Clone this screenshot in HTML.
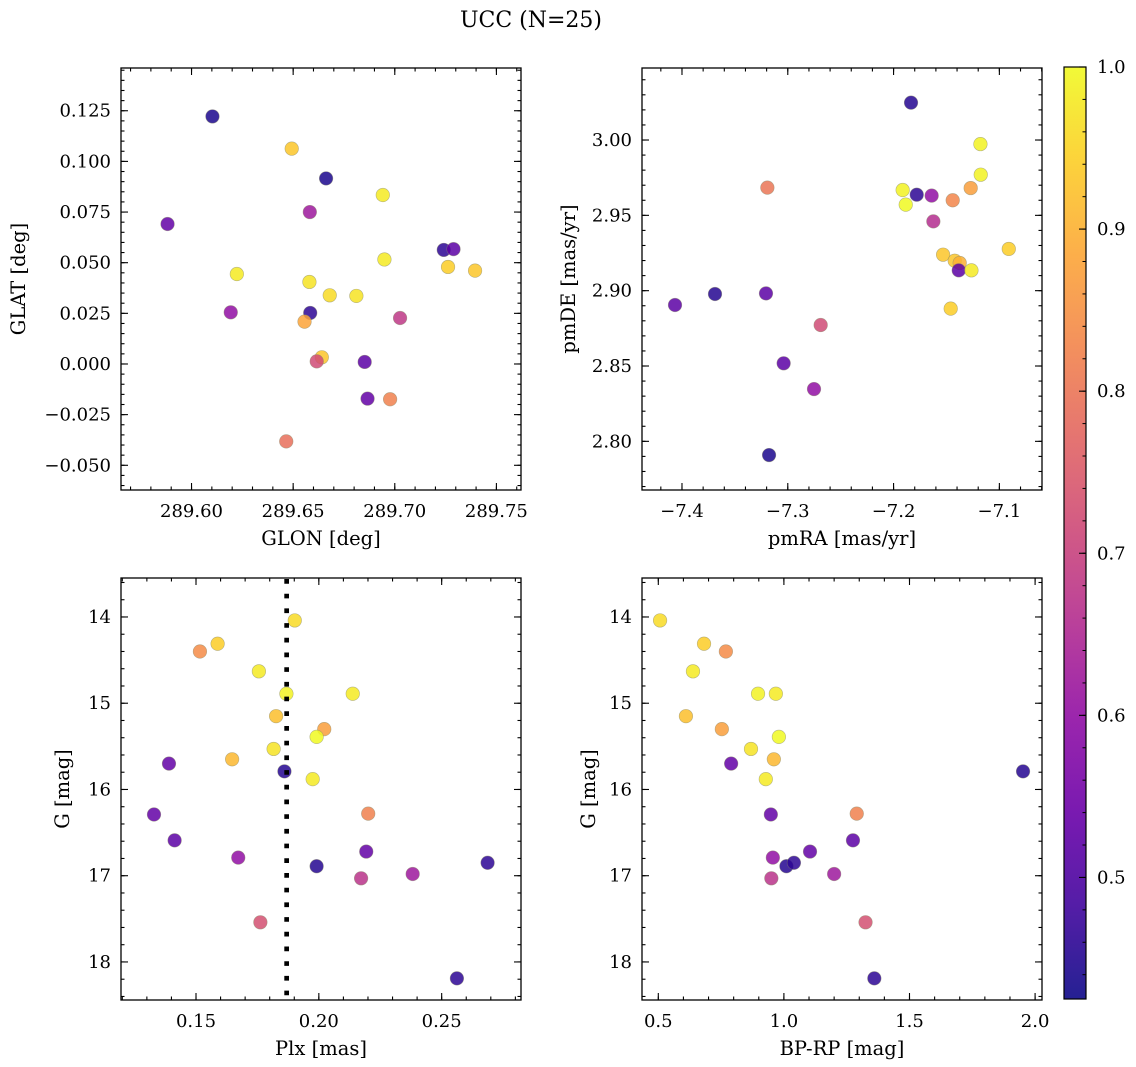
<!DOCTYPE html>
<html><head><meta charset="utf-8">
<style>
html,body{margin:0;padding:0;background:#fff;}
svg{display:block;}
text{font-family:"DejaVu Serif","Liberation Serif",serif;fill:#000;}
</style></head>
<body>
<svg id="fig" width="1136" height="1067" viewBox="0 0 1136 1067" xmlns="http://www.w3.org/2000/svg">
<defs>
<linearGradient id="plasmaGrad" x1="0" y1="1" x2="0" y2="0"></linearGradient>
</defs>
<text x="531" y="27" font-size="22" text-anchor="middle">UCC (N=25)</text>
</svg>
<script>
// ---- Panel 1: GLON / GLAT ----
const p1Glon=[289.6103,289.6493,289.6662,289.6941,289.6582,289.5882,289.7241,289.7289,289.6949,289.7262,289.7395,289.6223,289.6580,289.6680,289.6811,289.6193,289.6584,289.7026,289.6556,289.6641,289.6616,289.6852,289.6866,289.6977,289.6466];
const p1Glat=[0.1222,0.1063,0.0916,0.0834,0.0750,0.0691,0.0563,0.0567,0.0516,0.0479,0.0461,0.0444,0.0405,0.0339,0.0336,0.0255,0.0252,0.0227,0.0209,0.0033,0.0013,0.0010,-0.0171,-0.0174,-0.0382];
const p1Prob=[0.44,0.93,0.44,0.98,0.62,0.53,0.46,0.52,0.98,0.94,0.93,0.98,0.97,0.96,0.97,0.60,0.46,0.68,0.88,0.93,0.72,0.52,0.53,0.82,0.79];
const p1XTicks=[289.60,289.65,289.70,289.75];
const p1XTickLabels=["289.60","289.65","289.70","289.75"];
const p1YTicks=[-0.05,-0.025,0,0.025,0.05,0.075,0.1,0.125];
const p1YTickLabels=["\u22120.050","\u22120.025","0.000","0.025","0.050","0.075","0.100","0.125"];
// ---- Panel 2: pmRA / pmDE ----
const p2Pmra=[-7.1835,-7.1179,-7.1176,-7.1914,-7.1781,-7.1640,-7.1271,-7.3193,-7.1441,-7.1885,-7.1624,-7.0911,-7.1532,-7.1422,-7.1375,-7.1384,-7.1264,-7.4066,-7.3688,-7.3206,-7.2689,-7.1460,-7.3039,-7.2752,-7.3177];
const p2Pmde=[3.0248,2.9973,2.9770,2.9668,2.9637,2.9631,2.9681,2.9684,2.9600,2.9571,2.9460,2.9277,2.9239,2.9199,2.9184,2.9135,2.9135,2.8905,2.8978,2.8982,2.8772,2.8881,2.8518,2.8347,2.7909];
const p2Prob=[0.45,0.99,0.99,0.99,0.46,0.60,0.87,0.80,0.83,1.0,0.66,0.94,0.93,0.93,0.90,0.52,0.98,0.52,0.45,0.52,0.72,0.94,0.52,0.60,0.44];
const p2XTicks=[-7.4,-7.3,-7.2,-7.1];
const p2XTickLabels=["\u22127.4","\u22127.3","\u22127.2","\u22127.1"];
const p2YTicks=[2.80,2.85,2.90,2.95,3.00];
const p2YTickLabels=["2.80","2.85","2.90","2.95","3.00"];
// ---- Panel 3: Plx / G ----
const p3Plx=[0.1902,0.1588,0.1516,0.1756,0.1868,0.2138,0.1826,0.2022,0.1991,0.1816,0.1647,0.1390,0.1860,0.1975,0.1329,0.2201,0.1413,0.2193,0.1672,0.1991,0.2687,0.2172,0.2382,0.1762,0.2562];
const p3G=[14.04,14.31,14.40,14.63,14.89,14.89,15.15,15.30,15.39,15.53,15.65,15.70,15.79,15.88,16.29,16.28,16.59,16.72,16.79,16.89,16.85,17.03,16.98,17.54,18.19];
const p3Prob=[0.96,0.94,0.84,0.98,0.99,0.98,0.92,0.87,1.0,0.97,0.91,0.53,0.45,0.98,0.53,0.82,0.52,0.53,0.60,0.45,0.46,0.67,0.62,0.73,0.46];
const plxLine=[0.1869];
const p3XTicks=[0.15,0.20,0.25];
const p3XTickLabels=["0.15","0.20","0.25"];
const gTicks=[14,15,16,17,18];
const gTickLabels=["14","15","16","17","18"];
// ---- Panel 4: BP-RP / G ----
const p4Bprp=[0.507,0.682,0.769,0.638,0.897,0.968,0.610,0.753,0.980,0.869,0.960,0.790,1.952,0.928,0.948,1.290,1.275,1.104,0.956,1.010,1.040,0.950,1.200,1.325,1.360];
const p4G=[14.04,14.31,14.40,14.63,14.89,14.89,15.15,15.30,15.39,15.53,15.65,15.70,15.79,15.88,16.29,16.28,16.59,16.72,16.79,16.89,16.85,17.03,16.98,17.54,18.19];
const p4Prob=[0.96,0.94,0.84,0.98,0.99,0.98,0.92,0.87,1.0,0.97,0.91,0.53,0.45,0.98,0.53,0.82,0.52,0.53,0.60,0.45,0.46,0.67,0.62,0.73,0.46];
const p4XTicks=[0.5,1.0,1.5,2.0];
const p4XTickLabels=["0.5","1.0","1.5","2.0"];
// ---- Colorbar ----
const cbTicks=[0.5,0.6,0.7,0.8,0.9,1.0];
const cbTickLabels=["0.5","0.6","0.7","0.8","0.9","1.0"];
const cbMin=0.425, cbMax=1.0;

const NS="http://www.w3.org/2000/svg";
const svg=document.getElementById('fig');
function mk(tag,attrs,parent){const e=document.createElementNS(NS,tag);for(const k in attrs)e.setAttribute(k,attrs[k]);(parent||svg).appendChild(e);return e;}

const plasmaStops=[[0,13,8,135],[0.1,65,4,157],[0.2,106,0,168],[0.3,143,13,164],[0.4,177,42,144],[0.5,204,71,120],[0.6,225,100,98],[0.7,242,132,75],[0.8,252,166,54],[0.9,252,206,37],[1.0,240,249,33]];
function plasma(t){t=Math.max(0,Math.min(1,t));for(let i=1;i<plasmaStops.length;i++){const a=plasmaStops[i-1],b=plasmaStops[i];if(t<=b[0]){const f=(t-a[0])/(b[0]-a[0]);return 'rgb('+Math.round(a[1]+f*(b[1]-a[1]))+','+Math.round(a[2]+f*(b[2]-a[2]))+','+Math.round(a[3]+f*(b[3]-a[3]))+')';}}return 'rgb(240,249,33)';}
function probColor(p){return plasma((p-cbMin)/(cbMax-cbMin));}

function panel(o){
  const g=mk('g',{});
  
  
  const sx=v=>o.x0+(v-o.xmin)/(o.xmax-o.xmin)*(o.x1-o.x0);
  const sy=o.invert? (v=>o.y0+(v-o.ymin)/(o.ymax-o.ymin)*(o.y1-o.y0)) : (v=>o.y1-(v-o.ymin)/(o.ymax-o.ymin)*(o.y1-o.y0));
  const pts=mk('g',{},g);
  
  
  for(let i=0;i<o.xs.length;i++){
    const c=mk('circle',{cx:sx(o.xs[i]),cy:sy(o.ys[i]),r:6.8,fill:probColor(o.ps[i]),'fill-opacity':0.85,stroke:'#8a8a6a','stroke-opacity':0.6,'stroke-width':0.6},pts);
    
    
  }
  if(o.vline){for(const v of o.vline){const l=mk('line',{x1:sx(v),x2:sx(v),y1:o.y0+1,y2:o.y1,stroke:'#000','stroke-width':4.7,'stroke-dasharray':'4.7 10'},g);
    
    }}
  const tg=mk('g',{stroke:'#000','stroke-width':1.1},g);
  const addX=(v,len)=>{const x=sx(v);if(x<o.x0-0.5||x>o.x1+0.5)return;mk('line',{x1:x,x2:x,y1:o.y1,y2:o.y1-len},tg);mk('line',{x1:x,x2:x,y1:o.y0,y2:o.y0+len},tg);};
  const addY=(v,len)=>{const y=sy(v);if(y<o.y0-0.5||y>o.y1+0.5)return;mk('line',{x1:o.x0,x2:o.x0+len,y1:y,y2:y},tg);mk('line',{x1:o.x1,x2:o.x1-len,y1:y,y2:y},tg);};
  const lo=Math.min(o.xmin,o.xmax),hi=Math.max(o.xmin,o.xmax);
  for(let k=Math.ceil(lo/o.xminor);k*o.xminor<=hi;k++)addX(k*o.xminor,3.5);
  const ylo=Math.min(o.ymin,o.ymax),yhi=Math.max(o.ymin,o.ymax);
  for(let k=Math.ceil(ylo/o.yminor);k*o.yminor<=yhi;k++)addY(k*o.yminor,3.5);
  o.xticks.forEach((v,i)=>{addX(v,7);const t=mk('text',{x:sx(v),y:o.y1+27,'font-size':18,'text-anchor':'middle'},g);t.textContent=o.xlabels[i];
    
    });
  o.yticks.forEach((v,i)=>{addY(v,7);const t=mk('text',{x:o.x0-10,y:sy(v)+6,'font-size':18,'text-anchor':'end'},g);t.textContent=o.ylabels[i];
    
    });
  const fr=mk('rect',{x:o.x0,y:o.y0,width:o.x1-o.x0,height:o.y1-o.y0,fill:'none',stroke:'#000','stroke-width':1.3},g);
  
  
  const xt=mk('text',{x:(o.x0+o.x1)/2,y:o.y1+55,'font-size':19.5,'text-anchor':'middle'},g);xt.textContent=o.xtitle;
  
  
  const yc=(o.y0+o.y1)/2;
  const yt=mk('text',{x:o.ytx,y:yc,'font-size':19.5,'text-anchor':'middle',transform:'rotate(-90 '+o.ytx+' '+yc+')'},g);yt.textContent=o.ytitle;
  
  
}

panel({name:'glon-glat-panel',x0:121,x1:521,y0:68,y1:490,xmin:289.5653,xmax:289.7621,ymin:-0.0622,ymax:0.1461,xs:p1Glon,ys:p1Glat,ps:p1Prob,xticks:p1XTicks,xlabels:p1XTickLabels,yticks:p1YTicks,ylabels:p1YTickLabels,xminor:0.01,yminor:0.005,xtitle:'GLON [deg]',ytitle:'GLAT [deg]',ytx:25});
panel({name:'pm-panel',x0:642,x1:1042,y0:68,y1:490,xmin:-7.4378,xmax:-7.0597,ymin:2.7677,ymax:3.0478,xs:p2Pmra,ys:p2Pmde,ps:p2Prob,xticks:p2XTicks,xlabels:p2XTickLabels,yticks:p2YTicks,ylabels:p2YTickLabels,xminor:0.02,yminor:0.01,xtitle:'pmRA [mas/yr]',ytitle:'pmDE [mas/yr]',ytx:575});
panel({name:'plx-g-panel',x0:121,x1:521,y0:578,y1:1000,xmin:0.11947,xmax:0.28229,ymin:13.548,ymax:18.441,invert:true,xs:p3Plx,ys:p3G,ps:p3Prob,xticks:p3XTicks,xlabels:p3XTickLabels,yticks:gTicks,ylabels:gTickLabels,xminor:0.01,yminor:0.2,xtitle:'Plx [mas]',ytitle:'G [mag]',ytx:69,vline:plxLine});
panel({name:'cmd-panel',x0:642,x1:1042,y0:578,y1:1000,xmin:0.4351,xmax:2.0275,ymin:13.548,ymax:18.441,invert:true,xs:p4Bprp,ys:p4G,ps:p4Prob,xticks:p4XTicks,xlabels:p4XTickLabels,yticks:gTicks,ylabels:gTickLabels,xminor:0.1,yminor:0.2,xtitle:'BP-RP [mag]',ytitle:'G [mag]',ytx:595});

const grad=document.getElementById('plasmaGrad');
for(let i=0;i<=20;i++){const t=i/20;mk('stop',{offset:t,'stop-color':probColor(cbMin+t*(cbMax-cbMin)),'stop-opacity':0.9},grad);}
const cbx0=1064,cbx1=1086,cby0=67,cby1=999;
const cb=mk('g',{});


const cbr=mk('rect',{x:cbx0,y:cby0,width:cbx1-cbx0,height:cby1-cby0,fill:'url(#plasmaGrad)',stroke:'#000','stroke-width':1.2},cb);


const cy=v=>cby1-(v-cbMin)/(cbMax-cbMin)*(cby1-cby0);
for(let k=Math.ceil(cbMin/0.02);k*0.02<=cbMax+1e-9;k++){const y=cy(k*0.02);mk('line',{x1:cbx1,x2:cbx1-3.5,y1:y,y2:y,stroke:'#000','stroke-width':1},cb);}
cbTicks.forEach((v,i)=>{const y=cy(v);mk('line',{x1:cbx1,x2:cbx1-7,y1:y,y2:y,stroke:'#000','stroke-width':1.1},cb);
  const t=mk('text',{x:cbx1+11,y:y+6,'font-size':18},cb);t.textContent=cbTickLabels[i];
  
  });
</script>
</body></html>
